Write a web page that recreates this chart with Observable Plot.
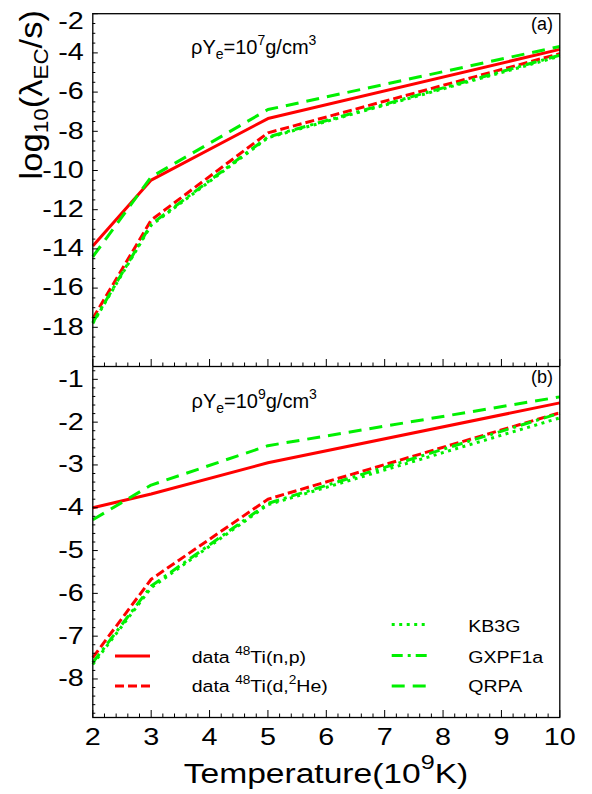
<!DOCTYPE html>
<html>
<head>
<meta charset="utf-8">
<script src="https://cdn.jsdelivr.net/npm/d3@7"></script>
<script src="https://cdn.jsdelivr.net/npm/@observablehq/plot@0.6"></script>
<style>
html, body { margin: 0; padding: 0; background: #fff; overflow: hidden; }
#chart svg { display: block; }
</style>
</head>
<body>
<div id="chart"></div>
<script>
// ---------------- data ----------------
const temperature = [2, 3, 5, 10];           // T9 (10^9 K)

// panel (a): rhoYe = 10^7 g/cm^3
const np_a     = [-13.85, -10.49, -7.35, -3.82];
const d2he_a   = [-17.55, -12.53, -8.08, -4.04];
const kb3g_a   = [-17.80, -12.79, -8.33, -4.17];
const gxpf1a_a = [-17.76, -12.74, -8.29, -4.12];
const qrpa_a   = [-14.40, -10.33, -6.89, -3.67];

// panel (b): rhoYe = 10^9 g/cm^3
const np_b     = [-4.00, -3.68, -2.95, -1.55];
const d2he_b   = [-7.50, -5.67, -3.80, -1.78];
const kb3g_b   = [-7.66, -5.87, -3.93, -1.90];
const gxpf1a_b = [-7.62, -5.83, -3.90, -1.79];
const qrpa_b   = [-4.28, -3.47, -2.55, -1.41];

const xTickLabels  = [2, 3, 4, 5, 6, 7, 8, 9, 10];
const yTickLabelsA = [-2, -4, -6, -8, -10, -12, -14, -16, -18];
const yTickLabelsB = [-1, -2, -3, -4, -5, -6, -7, -8];

// ---------------- styling ----------------
const RED = "#ff0000", GREEN = "#00f000";
const FONT = "'Liberation Sans', Arial, Helvetica, sans-serif";
const seriesKeys = ["np", "d2he", "kb3g", "gxpf1a", "qrpa"];
const seriesStyle = {
  np:     {stroke: RED,   dash: undefined},
  d2he:   {stroke: RED,   dash: "9,4"},
  kb3g:   {stroke: GREEN, dash: "3,4.5"},
  gxpf1a: {stroke: GREEN, dash: "11,5,3,5"},
  qrpa:   {stroke: GREEN, dash: "13,8"}
};

function rows(arr) { return temperature.map((T, i) => ({T, v: arr[i]})); }
const panelA = {np: rows(np_a), d2he: rows(d2he_a), kb3g: rows(kb3g_a), gxpf1a: rows(gxpf1a_a), qrpa: rows(qrpa_a)};
const panelB = {np: rows(np_b), d2he: rows(d2he_b), kb3g: rows(kb3g_b), gxpf1a: rows(gxpf1a_b), qrpa: rows(qrpa_b)};

const xMajor = d3.range(2, 11, 1);
const xMinor = d3.range(20, 101, 2).map(v => v / 10).filter(v => !Number.isInteger(v));
const yMajorA = d3.range(-20, -1, 2);
const yMinorA = d3.range(-40, -3, 1).map(v => v / 2).filter(v => v % 2 !== 0);
const yMajorB = d3.range(-8, 0, 1);
const yMinorB = d3.range(-44, -3, 1).map(v => Math.round(v * 2) / 10).filter(v => !Number.isInteger(v));

function makePanel(data, o) {
  const marks = [];
  for (const k of seriesKeys) {
    marks.push(Plot.line(data[k], {
      x: "T", y: "v",
      stroke: seriesStyle[k].stroke, strokeWidth: 3,
      strokeDasharray: seriesStyle[k].dash,
      strokeLinecap: "butt", strokeLinejoin: "miter"
    }));
  }
  const blank = () => "";
  marks.push(
    Plot.axisY({ticks: o.yMinor, tickSize: -3, tickFormat: blank, label: null}),
    Plot.axisY({ticks: o.yMajor, tickSize: -5.5, tickFormat: blank, label: null}),
    Plot.axisY({ticks: o.yLabels.filter(d => d !== o.shiftLabel), tickSize: 0, tickPadding: 9,
                tickFormat: d => String(d), fontSize: 23, label: null})
  );
  if (o.shiftLabel != null) {
    marks.push(Plot.axisY({ticks: [o.shiftLabel], tickSize: 0, tickPadding: 9, dy: 8,
                tickFormat: d => String(d), fontSize: 23, label: null}));
  }
  marks.push(
    Plot.axisX({ticks: xMinor, tickSize: -3.5, tickFormat: blank, label: null}),
    Plot.axisX({ticks: xMajor, tickSize: -7, tickFormat: blank, label: null})
  );
  if (o.showX) {
    marks.push(Plot.axisX({ticks: xTickLabels, tickSize: 0, tickPadding: 11,
               tickFormat: d => String(d), fontSize: 23, label: null}));
  }
  marks.push(Plot.frame({stroke: "black", strokeWidth: 1.3}));
  return Plot.plot({
    width: 592, height: o.height,
    marginLeft: 92.3, marginRight: 32.7, marginTop: o.mt, marginBottom: o.mb,
    x: {domain: [2, 10], label: null},
    y: {domain: o.yDomain, label: null},
    style: {fontFamily: FONT, background: "white", color: "black"},
    marks
  });
}

const topSvg = makePanel(panelA, {height: 366, mt: 13.2, mb: 0, yDomain: [-20, -2],
  yMajor: yMajorA, yMinor: yMinorA, yLabels: yTickLabelsA, shiftLabel: -2, showX: false});
const botSvg = makePanel(panelB, {height: 428, mt: 0, mb: 77, yDomain: [-8.9, -0.7],
  yMajor: yMajorB, yMinor: yMinorB, yLabels: yTickLabelsB, shiftLabel: null, showX: true});

const chart = document.getElementById("chart");
chart.appendChild(topSvg);
chart.appendChild(botSvg);

// widen tick labels (reference typeface is wider than Arial)
function stretch(sel, sx) {
  sel.each(function () {
    const x = this.getAttribute("x");
    let t = this.getAttribute("transform") || "";
    if (x != null) { t += ` translate(${x},0)`; this.removeAttribute("x"); }
    this.setAttribute("transform", `${t} scale(${sx},1)`);
  });
}
for (const s of [topSvg, botSvg]) {
  stretch(d3.select(s).selectAll('g[aria-label="y-axis tick label"] text, g[aria-label="x-axis tick label"] text'), 1.25);
}

// rich text helper (sub/superscripts as tspans)
function rich(text, parts, size, {shiftSub = 0.25, shiftSup = 0.45, scale = 0.7} = {}) {
  let cur = 0;
  for (const p of parts) {
    const target = p.sup ? -shiftSup * size : p.sub ? shiftSub * size : 0;
    text.append("tspan")
      .attr("dy", target - cur)
      .attr("font-size", (p.sup || p.sub) ? size * (p.scale || scale) : size)
      .text(p.t);
    cur = target;
  }
  return text;
}

const gTop = d3.select(topSvg).append("g").attr("font-family", FONT).attr("fill", "black").attr("text-anchor", "start");
const gBot = d3.select(botSvg).append("g").attr("font-family", FONT).attr("fill", "black").attr("text-anchor", "start");

// y-axis title
rich(gTop.append("text")
  .attr("transform", "translate(41.7,10) rotate(-90) scale(1.08,1)")
  .attr("text-anchor", "end").attr("font-size", 32),
  [{t: "log"}, {t: "10", sub: true, scale: 0.65}, {t: "(λ"}, {t: "EC", sub: true, scale: 0.65}, {t: "/s)"}],
  32, {shiftSub: 0.19});

// panel labels
gTop.append("text").attr("x", 553).attr("y", 29.7).attr("text-anchor", "end").attr("font-size", 18).text("(a)");
gBot.append("text").attr("x", 553).attr("y", 17).attr("text-anchor", "end").attr("font-size", 18).text("(b)");

// density annotations
rich(gTop.append("text").attr("x", 191).attr("y", 54.3).attr("text-anchor", "start").attr("font-size", 20),
  [{t: "ρY"}, {t: "e", sub: true}, {t: "=10"}, {t: "7", sup: true}, {t: "g/cm"}, {t: "3", sup: true}], 20);
rich(gBot.append("text").attr("x", 191.5).attr("y", 41.7).attr("text-anchor", "start").attr("font-size", 20),
  [{t: "ρY"}, {t: "e", sub: true}, {t: "=10"}, {t: "9", sup: true}, {t: "g/cm"}, {t: "3", sup: true}], 20);

// x-axis title
rich(gBot.append("text").attr("transform", "translate(326,416.5) scale(1.2,1)")
  .attr("text-anchor", "middle").attr("font-size", 28),
  [{t: "Temperature(10"}, {t: "9", sup: true, scale: 0.75}, {t: "K)"}], 28, {shiftSup: 0.5});

// legend
const legendItems = [
  {key: "np",     x1: 115,   x2: 150,   y: 290,   tx: 191.7, ty: 297.3, parts: [{t: "data "}, {t: "48", sup: true}, {t: "Ti(n,p)"}]},
  {key: "d2he",   x1: 115,   x2: 150,   y: 320,   tx: 191.7, ty: 326.3, parts: [{t: "data "}, {t: "48", sup: true}, {t: "Ti(d,"}, {t: "2", sup: true}, {t: "He)"}]},
  {key: "kb3g",   x1: 391.7, x2: 428.3, y: 258.5, tx: 468.3, ty: 266.3, parts: [{t: "KB3G"}]},
  {key: "gxpf1a", x1: 391.7, x2: 428.3, y: 289.5, tx: 468.3, ty: 297.3, parts: [{t: "GXPF1a"}]},
  {key: "qrpa",   x1: 391.7, x2: 428.3, y: 320,   tx: 468.3, ty: 326.3, parts: [{t: "QRPA"}]}
];
for (const it of legendItems) {
  const st = seriesStyle[it.key];
  gBot.append("line").attr("x1", it.x1).attr("x2", it.x2).attr("y1", it.y).attr("y2", it.y)
    .attr("stroke", st.stroke).attr("stroke-width", 3)
    .attr("stroke-dasharray", st.dash || null);
  rich(gBot.append("text").attr("transform", `translate(${it.tx},${it.ty}) scale(1.15,1)`)
      .attr("text-anchor", "start").attr("font-size", 17),
    it.parts, 17, {shiftSup: 0.5});
}
</script>
</body>
</html>
